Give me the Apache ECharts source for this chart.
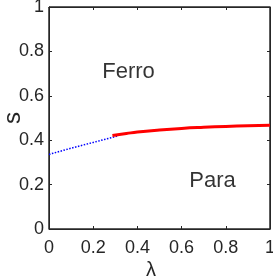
<!DOCTYPE html>
<html><head><meta charset="utf-8">
<script src="https://cdn.jsdelivr.net/npm/echarts@6/dist/echarts.min.js"></script>
<style>html,body{margin:0;padding:0;background:#fff;overflow:hidden}#c{width:273px;height:277px}</style>
</head><body><div id="c"></div>
<script>
const xTicks = [0, 0.2, 0.4, 0.6, 0.8, 1];
const yTicks = [0, 0.2, 0.4, 0.6, 0.8, 1];
const blueLambda = [0, 0.05, 0.1, 0.15, 0.2, 0.25, 0.3, 0.31];
const blueS = [0.336, 0.350, 0.364, 0.377, 0.390, 0.403, 0.416, 0.419];
const redLambda = [0.287, 0.35, 0.4, 0.5, 0.6, 0.7, 0.8, 0.9, 1.0];
const redS = [0.421, 0.430, 0.437, 0.446, 0.453, 0.458, 0.462, 0.465, 0.467];
const regionNames = ['Ferro', 'Para'];
const regionLambda = [0.36, 0.74];
const regionS = [0.709, 0.216];

const FONT = 'Liberation Sans';
const axisCol = '#262626';
const zip = (a, b) => a.map((v, i) => [v, b[i]]);
const fmt = v => String(v);

const chart = echarts.init(document.getElementById('c'), null, {renderer: 'canvas', width: 273, height: 277});
function axisBase() {
  return {
    min: 0, max: 1, interval: 0.2,
    axisLine: {show: true, onZero: false, lineStyle: {color: axisCol, width: 1}},
    axisTick: {show: true, inside: true, length: 3, lineStyle: {color: axisCol, width: 1}},
    splitLine: {show: false}
  };
}
chart.setOption({
  animation: false,
  grid: {left: 49, right: 3, top: 7, bottom: 48, containLabel: false, outerBoundsMode: 'none',
         show: true, borderColor: axisCol, borderWidth: 1, backgroundColor: 'rgba(0,0,0,0)'},
  xAxis: [
    Object.assign(axisBase(), {type: 'value', position: 'bottom',
      name: 'λ', nameLocation: 'middle', nameGap: 31, nameMoveOverlap: false,
      nameTextStyle: {fontFamily: FONT, fontSize: 20, color: axisCol, padding: [0, 17, 0, 0]},
      axisLabel: {fontFamily: FONT, fontSize: 18, color: axisCol, margin: 10, formatter: fmt}}),
    Object.assign(axisBase(), {type: 'value', position: 'top', show: true, axisLabel: {show: false}})
  ],
  yAxis: [
    Object.assign(axisBase(), {type: 'value', position: 'left',
      name: 's', nameLocation: 'middle', nameGap: 36, nameRotate: 90, nameMoveOverlap: false,
      nameTextStyle: {fontFamily: FONT, fontSize: 24, color: axisCol, verticalAlign: 'middle'},
      axisLabel: {fontFamily: FONT, fontSize: 18, color: axisCol, margin: 5, formatter: fmt}}),
    Object.assign(axisBase(), {type: 'value', position: 'right', show: true, axisLabel: {show: false}})
  ],
  series: [
    {type: 'line', data: zip(blueLambda, blueS), showSymbol: false, smooth: false,
     lineStyle: {color: '#0000ff', width: 1.5, type: [1.5, 1.5]},
     markArea: {silent: true, itemStyle: {color: 'rgba(0,0,0,0)', borderColor: axisCol, borderWidth: 1},
       data: [[{coord: [xTicks[0], yTicks[0]]}, {coord: [xTicks[xTicks.length - 1], yTicks[yTicks.length - 1]]}]]}},
    {type: 'line', data: zip(redLambda, redS), showSymbol: false, smooth: true,
     lineStyle: {color: '#ff0000', width: 3}},
    {type: 'scatter', symbolSize: 0, silent: true,
     data: regionNames.map((n, i) => ({value: [regionLambda[i], regionS[i]], name: n})),
     label: {show: true, position: 'inside', formatter: p => p.name,
       fontFamily: FONT, fontSize: 22, color: '#000'}}
  ]
});
</script></body></html>
